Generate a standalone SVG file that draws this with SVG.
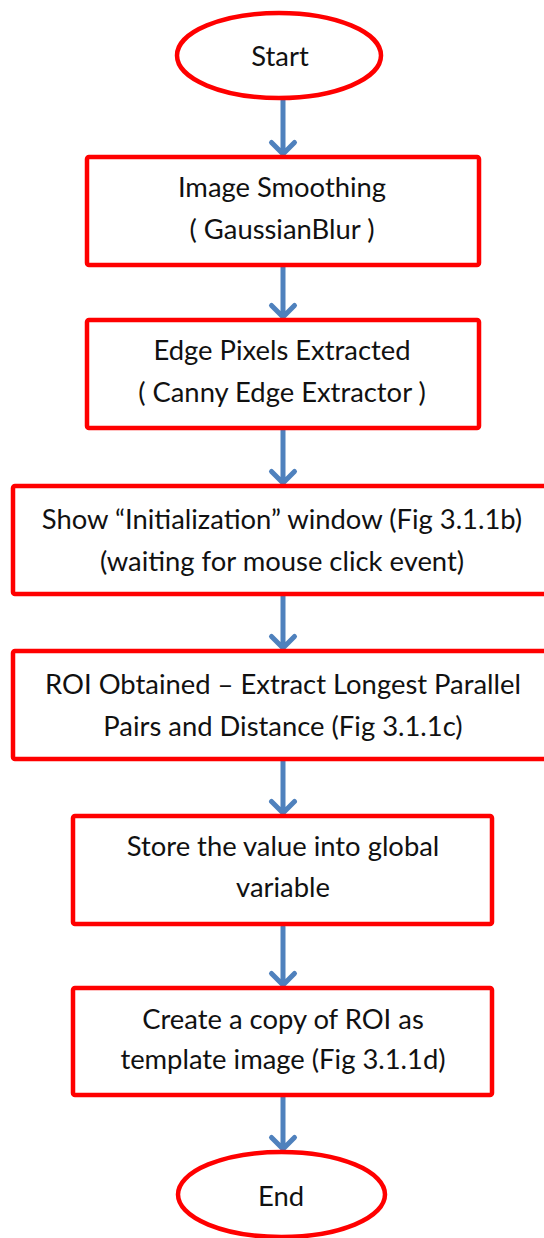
<svg xmlns="http://www.w3.org/2000/svg" width="544" height="1238" viewBox="0 0 544 1238">
  <style>
    .term { fill: #ffffff; stroke: #ff0000; stroke-width: 4.5; }
    .box { fill: #ffffff; stroke: #ff0000; stroke-width: 4.5; }
    .label { font-family: Lato, "Liberation Sans", sans-serif; font-size: 27.4px; fill: #111111; text-anchor: middle; }
    .flow { fill: none; stroke: #4f81bd; stroke-width: 5; stroke-linecap: round; stroke-linejoin: round; }
  </style>
  <rect width="544" height="1238" fill="#ffffff"/>

  <!-- connectors: shaft plus open chevron head -->
  <g id="connectors">
    <path class="flow" d="M283 100 V154 M271.5 142.5 L283 154 L294.5 142.5"/>
    <path class="flow" d="M283 267 V317 M271.5 305.5 L283 317 L294.5 305.5"/>
    <path class="flow" d="M283 430 V483 M271.5 471.5 L283 483 L294.5 471.5"/>
    <path class="flow" d="M283 596 V648 M271.5 636.5 L283 648 L294.5 636.5"/>
    <path class="flow" d="M283 761 V813 M271.5 801.5 L283 813 L294.5 801.5"/>
    <path class="flow" d="M283 927 V985 M271.5 973.5 L283 985 L294.5 973.5"/>
    <path class="flow" d="M283 1097 V1149 M271.5 1137.5 L283 1149 L294.5 1137.5"/>
  </g>

  <g id="start">
    <ellipse class="term" cx="279" cy="55.5" rx="102" ry="42.5"/>
    <text class="label" x="280" y="66">Start</text>
  </g>

  <g id="smoothing">
    <rect class="box" x="87" y="157" width="392" height="108" rx="2"/>
    <text class="label" x="282" y="197">Image Smoothing</text>
    <text class="label" x="282" y="239">( GaussianBlur )</text>
  </g>

  <g id="edges">
    <rect class="box" x="87" y="320" width="392" height="108" rx="2"/>
    <text class="label" x="282" y="360">Edge Pixels Extracted</text>
    <text class="label" x="282" y="402">( Canny Edge Extractor )</text>
  </g>

  <g id="init-window">
    <rect class="box" x="13" y="486" width="540" height="108" rx="2"/>
    <text class="label" x="282" y="529">Show “Initialization” window (Fig 3.1.1b)</text>
    <text class="label" x="282" y="571">(waiting for mouse click event)</text>
  </g>

  <g id="roi">
    <rect class="box" x="13" y="651" width="540" height="108" rx="2"/>
    <text class="label" x="283" y="694">ROI Obtained – Extract Longest Parallel</text>
    <text class="label" x="283" y="736">Pairs and Distance (Fig 3.1.1c)</text>
  </g>

  <g id="store">
    <rect class="box" x="73" y="816" width="419" height="108" rx="2"/>
    <text class="label" x="283" y="856">Store the value into global</text>
    <text class="label" x="283" y="897">variable</text>
  </g>

  <g id="template">
    <rect class="box" x="73" y="988" width="419" height="107" rx="2"/>
    <text class="label" x="283" y="1029">Create a copy of ROI as</text>
    <text class="label" x="283" y="1069">template image (Fig 3.1.1d)</text>
  </g>

  <g id="end">
    <ellipse class="term" cx="281.5" cy="1194.5" rx="103.5" ry="42.5"/>
    <text class="label" x="281" y="1206">End</text>
  </g>
</svg>
